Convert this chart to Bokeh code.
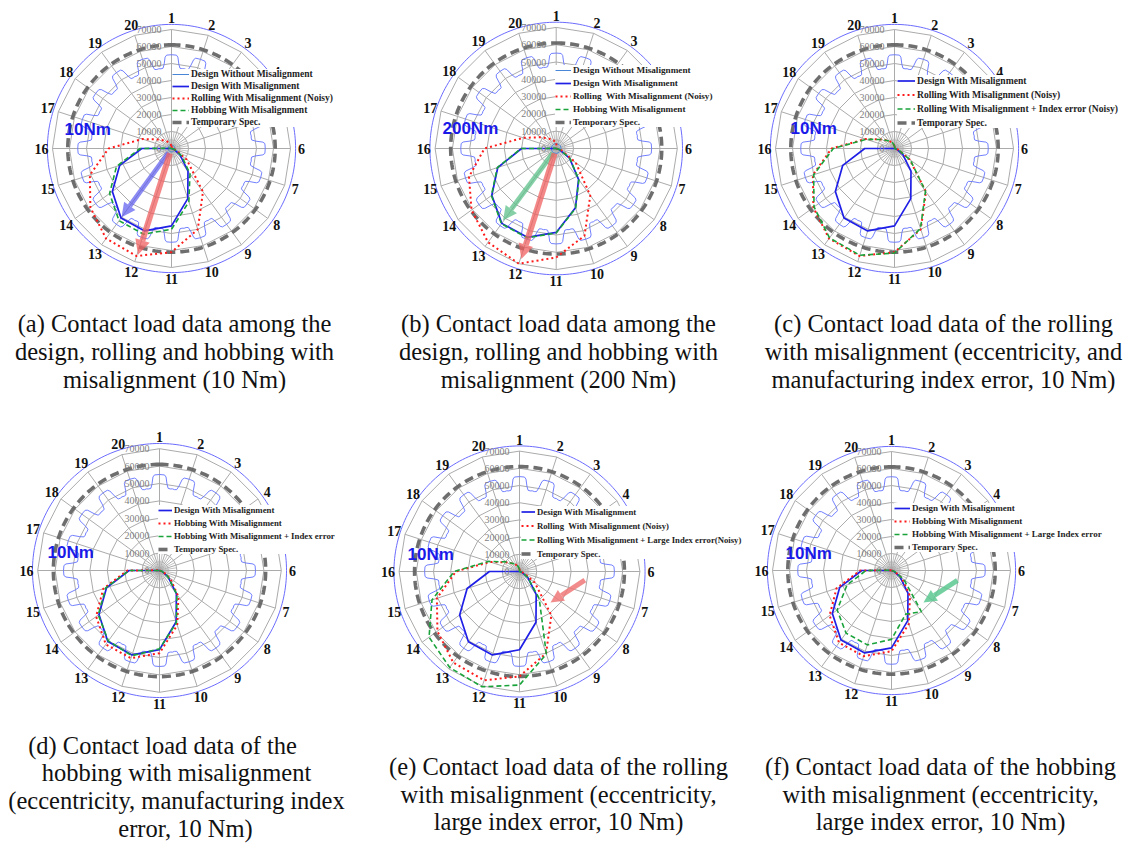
import math
from bokeh.plotting import figure
from bokeh.layouts import row, column
from bokeh.models import Range1d, Legend, LegendItem, Label, Arrow, NormalHead
from bokeh.core.properties import value
from bokeh.embed import file_html
from bokeh.resources import INLINE

# ---------------- data ----------------
tooth_labels = ["1", "2", "3", "4", "5", "6", "7", "8", "9", "10",
                "11", "12", "13", "14", "15", "16", "17", "18", "19", "20"]
ring_values = [0, 10000, 20000, 30000, 40000, 50000, 60000, 70000]
ring_labels = ["0", "10000", "20000", "30000", "40000", "50000", "60000", "70000"]
spec_limit = 61000

# contact load per tooth (teeth 1..20)
design_without_10 = [2000, 2000, 2000, 2000, 2000, 2000, 2000, 2000, 2000, 2000,
                     2000, 2000, 2000, 2000, 2000, 2000, 2000, 2000, 2000, 2000]
design_with_10 = [0, 0, 0, 0, 0, 0, 1500, 6000, 16500, 31000,
                  45500, 51000, 50500, 43000, 32000, 17500, 0, 0, 0, 0]
hobbing_10 = [0, 0, 0, 0, 0, 0, 2000, 7500, 18500, 33000,
              47500, 53000, 52500, 45000, 34000, 18500, 500, 0, 0, 0]
rolling_10 = [1500, 500, 0, 0, 0, 0, 2500, 11000, 31500, 50000,
              61000, 66500, 65500, 59000, 50500, 37000, 18000, 9000, 5500, 3500]
rolling_index_10 = [1500, 500, 0, 0, 0, 0, 2500, 11500, 31000, 49500,
                    61500, 66000, 65000, 58500, 50000, 36000, 17500, 9000, 5500, 3500]
hobbing_index_10 = [0, 0, 0, 0, 0, 0, 1500, 6000, 17000, 31500,
                    45000, 51500, 50000, 43500, 32500, 17500, 0, 0, 0, 0]
rolling_large_10 = [1500, 0, 0, 0, 0, 0, 1500, 6000, 19500, 50500,
                    66000, 70500, 69000, 65000, 53500, 38000, 19000, 9500, 5500, 3500]
hobbing_large_10 = [0, 0, 0, 0, 0, 0, 2000, 9000, 30000, 27000,
                    40500, 46000, 45500, 39500, 27500, 15000, 500, 0, 0, 0]
design_without_200 = [2800, 2800, 2800, 2800, 2800, 2800, 2800, 2800, 2800, 2800,
                      2800, 2800, 2800, 2800, 2800, 2800, 2800, 2800, 2800, 2800]
design_with_200 = [0, 0, 0, 0, 0, 0, 2000, 9500, 22000, 36000,
                   48500, 54000, 53500, 46000, 35500, 20000, 0, 0, 0, 0]
hobbing_200 = [0, 0, 0, 0, 0, 0, 2200, 9700, 22300, 36300,
               48800, 54300, 53800, 46300, 35800, 20300, 200, 0, 0, 0]
rolling_200 = [3000, 1000, 0, 0, 0, 0, 3000, 14000, 33500, 53000,
               63000, 70000, 67000, 60500, 53000, 41500, 20000, 11000, 7000, 5000]

STYLES = {
    "nomis": dict(line_color="#4a86d8", line_width=1.0),
    "design": dict(line_color="#1f1fe6", line_width=1.7),
    "roll": dict(line_color="#ff1a1a", line_width=2.0, line_dash="2 3"),
    "hob": dict(line_color="#19a33a", line_width=1.6, line_dash="5 3"),
}

STEP = 360.0 / len(tooth_labels)


def tooth_angle(i):
    return math.radians(STEP * i)


def polar_xy(vals):
    xs = [v * math.sin(tooth_angle(i)) for i, v in enumerate(vals)]
    ys = [v * math.cos(tooth_angle(i)) for i, v in enumerate(vals)]
    return xs + [xs[0]], ys + [ys[0]]


def circle_xy(r, n=240):
    a = [2 * math.pi * k / n for k in range(n + 1)]
    return [r * math.sin(t) for t in a], [r * math.cos(t) for t in a]


def gear_xy(rt=55000, rr=47500):
    xs, ys = [], []
    for k in range(len(tooth_labels)):
        c = STEP * k
        segs = [(c - 9, rr), (c - 7.5, rr * 0.995), (c - 6, rr), (c - 5, rr + 0.3 * (rt - rr)),
                (c - 4, rt - 0.15 * (rt - rr)), (c - 3, rt), (c, rt * 1.003), (c + 3, rt),
                (c + 4, rt - 0.15 * (rt - rr)), (c + 5, rr + 0.3 * (rt - rr)), (c + 6, rr),
                (c + 7.5, rr * 0.995)]
        for a, r in segs:
            xs.append(r * math.sin(math.radians(a)))
            ys.append(r * math.cos(math.radians(a)))
    return xs + [xs[0]], ys + [ys[0]]


def make_panel(cfg):
    W, H = cfg["size"]
    ox, oy = cfg["offset"]
    cx, cy = cfg["center"]
    s = cfg["scale"] / 10000.0
    p = figure(width=W, height=H,
               x_range=Range1d(-cx / s, (W - cx) / s),
               y_range=Range1d(-(H - cy) / s, cy / s),
               output_backend="svg", toolbar_location=None, min_border=0,
               x_axis_location=None, y_axis_location=None,
               background_fill_color="white", border_fill_color="white",
               outline_line_color=None)
    p.grid.visible = False

    grid_col = "#ababab"
    rmax = ring_values[-1]
    rx, ry = [], []
    for rv in ring_values[1:]:
        xs, ys = polar_xy([rv] * len(tooth_labels))
        rx.append(xs)
        ry.append(ys)
    p.multi_line(rx, ry, line_color=grid_col, line_width=1)
    cxs, cys = circle_xy(5000, 60)
    p.line(cxs, cys, line_color=grid_col, line_width=0.8)
    n = len(tooth_labels)
    p.segment(x0=[0] * n, y0=[0] * n,
              x1=[rmax * math.sin(tooth_angle(i)) for i in range(n)],
              y1=[rmax * math.cos(tooth_angle(i)) for i in range(n)],
              line_color=grid_col, line_width=1)
    p.segment(x0=[0] * n, y0=[0] * n,
              x1=[10000 * math.sin(tooth_angle(i + 0.5)) for i in range(n)],
              y1=[10000 * math.cos(tooth_angle(i + 0.5)) for i in range(n)],
              line_color=grid_col, line_width=0.7)
    gx, gy = gear_xy()
    p.line(gx, gy, line_color="#6272ff", line_width=0.9)
    ox_, oy_ = circle_xy(73000)
    p.line(ox_, oy_, line_color="#6b6bff", line_width=1)
    sx, sy = circle_xy(spec_limit)
    r_spec = p.line(sx, sy, line_color="#5e5e5e", line_width=3.6, line_dash="9 5", line_alpha=0.9)

    items = []
    for label, vals, style in cfg["series"]:
        xs, ys = polar_xy(vals)
        r = p.line(xs, ys, **STYLES[style])
        items.append(LegendItem(label=label, renderers=[r]))
    items.append(LegendItem(label="Temporary Spec.", renderers=[r_spec]))

    for col, alpha, lw, r0, a0, r1, a1, hs in cfg["arrows"]:
        t0, t1 = math.radians(a0), math.radians(a1)
        p.add_layout(Arrow(x_start=r0 * math.sin(t0), y_start=r0 * math.cos(t0),
                           x_end=r1 * math.sin(t1), y_end=r1 * math.cos(t1),
                           line_color=col, line_alpha=alpha, line_width=lw,
                           end=NormalHead(size=hs, fill_color=col, fill_alpha=alpha,
                                          line_color=None)))

    rl = 76500
    p.text(x=[rl * math.sin(tooth_angle(i)) for i in range(n)],
           y=[rl * math.cos(tooth_angle(i)) for i in range(n)],
           text=tooth_labels, text_font=value("Liberation Serif"),
           text_font_style="bold", text_font_size="14px", text_color="#111111",
           text_align="center", text_baseline="middle")
    p.text(x=[-10 / s] * len(ring_values), y=ring_values, text=ring_labels,
           text_font=value("Liberation Serif"), text_font_size="10px",
           text_color="#7f7f7f", text_align="right", text_baseline="middle")

    tx, ty = cfg["torque_pos"]
    p.add_layout(Label(x=tx - ox, y=H - (ty - oy), x_units="screen", y_units="screen",
                       text=cfg["torque"], text_font="Liberation Sans",
                       text_font_style="bold", text_font_size="17px",
                       text_color="#1a1ae8", text_align="left", text_baseline="middle"))

    lg = cfg["legend"]
    pad = 3
    n_items = len(items)
    lg_height = n_items * lg["h"] + (n_items - 1) * lg["sp"] + 2 * pad
    lg_left, lg_top = lg["left"] - ox, lg["top"] - oy
    legend = Legend(items=items, location=(lg_left, H - lg_top - lg_height), margin=0,
                    background_fill_color="white", background_fill_alpha=1.0,
                    border_line_color=None,
                    label_text_font="Liberation Serif", label_text_font_style="bold",
                    label_text_font_size=lg["font"], label_text_color="#1e1e1e",
                    label_height=lg["h"], glyph_height=lg["h"], glyph_width=lg["gw"],
                    label_standoff=2, spacing=lg["sp"], padding=pad)
    p.add_layout(legend)

    for text, px, py in cfg["captions"]:
        p.add_layout(Label(x=px - ox, y=H - (py - oy), x_units="screen", y_units="screen",
                           text=text, text_font="Liberation Serif", text_font_size="24.5px",
                           text_color="#111111", text_align="center", text_baseline="middle"))
    return p


panels = [
    dict(offset=(0, 0), size=(370, 412), center=(171, 148), scale=17.0,
         series=[("Design Without Misalignment", design_without_10, "nomis"),
                 ("Design With Misalignment", design_with_10, "design"),
                 ("Rolling With Misalignment (Noisy)", rolling_10, "roll"),
                 ("Hobbing With Misalignment", hobbing_10, "hob")],
         torque="10Nm", torque_pos=(64, 129),
         arrows=[("#5a5aee", 0.7, 5, 3000, 216, 50000, 216, 14),
                 ("#f06060", 0.75, 6, 3000, 197.5, 65500, 197.5, 15)],
         legend=dict(left=172, top=63, font="9.5px", h=10, sp=2, gw=17),
         captions=[("(a) Contact load data among the", 174, 323),
                   ("design, rolling and hobbing with", 174, 351),
                   ("misalignment (10 Nm)", 174, 379)]),
    dict(offset=(370, 0), size=(380, 412), center=(185.7, 148), scale=17.3,
         series=[("Design Without Misalignment", design_without_200, "nomis"),
                 ("Design With Misalignment", design_with_200, "design"),
                 ("Rolling  With Misalignment (Noisy)", rolling_200, "roll"),
                 ("Hobbing With Misalignment", hobbing_200, "hob")],
         torque="200Nm", torque_pos=(442, 128),
         arrows=[("#5cc08a", 0.75, 5, 3000, 216.5, 51700, 216.5, 14),
                 ("#f06060", 0.75, 6, 3000, 197.5, 67000, 197.5, 15)],
         legend=dict(left=555, top=59, font="9.2px", h=10, sp=3, gw=16),
         captions=[("(b) Contact load data among the", 558, 323),
                   ("design, rolling and hobbing with", 558, 351),
                   ("misalignment (200 Nm)", 558, 379)]),
    dict(offset=(750, 0), size=(383, 412), center=(144, 148), scale=17.0,
         series=[("Design With Misalignment", design_with_10, "design"),
                 ("Rolling With Misalignment (Noisy)", rolling_10, "roll"),
                 ("Rolling With Misalignment + Index error (Noisy)", rolling_index_10, "hob")],
         torque="10Nm", torque_pos=(790, 128),
         arrows=[],
         legend=dict(left=897, top=69, font="9.6px", h=11, sp=3, gw=18),
         captions=[("(c) Contact load data of the rolling", 943, 323),
                   ("with misalignment (eccentricity, and", 943, 351),
                   ("manufacturing index error, 10 Nm)", 943, 379)]),
    dict(offset=(0, 412), size=(370, 432), center=(159, 158), scale=17.4,
         series=[("Design With Misalignment", design_with_10, "design"),
                 ("Hobbing With Misalignment", hobbing_10, "roll"),
                 ("Hobbing With Misalignment + Index error", hobbing_index_10, "hob")],
         torque="10Nm", torque_pos=(47, 552),
         arrows=[],
         legend=dict(left=158, top=499, font="8.8px", h=10, sp=3, gw=14),
         captions=[("(d) Contact load data of the", 162, 745),
                   ("hobbing with misalignment", 176, 772),
                   ("(eccentricity, manufacturing index", 176, 800),
                   ("error, 10 Nm)", 185, 828)]),
    dict(offset=(370, 412), size=(380, 432), center=(149, 159), scale=17.2,
         series=[("Design With Misalignment", design_with_10, "design"),
                 ("Rolling  With Misalignment (Noisy)", rolling_10, "roll"),
                 ("Rolling With Misalignment + Large Index error(Noisy)", rolling_large_10, "hob")],
         torque="10Nm", torque_pos=(407, 554),
         arrows=[("#f07878", 0.85, 5, 38300, 97.5, 25500, 135, 13)],
         legend=dict(left=521, top=500, font="8.7px", h=11, sp=3, gw=14),
         captions=[("(e) Contact load data of the rolling", 558, 766),
                   ("with misalignment (eccentricity,", 558, 794),
                   ("large index error, 10 Nm)", 558, 821)]),
    dict(offset=(750, 412), size=(383, 432), center=(141, 158), scale=17.0,
         series=[("Design With Misalignment", design_with_10, "design"),
                 ("Hobbing With Misalignment", hobbing_10, "roll"),
                 ("Hobbing With Misalignment + Large Index error", hobbing_large_10, "hob")],
         torque="10Nm", torque_pos=(785, 553),
         arrows=[("#5cc890", 0.85, 5, 39200, 98.6, 26600, 135, 13)],
         legend=dict(left=894, top=497, font="9px", h=10, sp=3, gw=16),
         captions=[("(f) Contact load data of the hobbing", 940, 766),
                   ("with misalignment (eccentricity,", 940, 794),
                   ("large index error, 10 Nm)", 940, 821)]),
]

figs = [make_panel(c) for c in panels]
layout = column(row(figs[0], figs[1], figs[2]), row(figs[3], figs[4], figs[5]))

with open("out.html", "w") as f:
    f.write(file_html(layout, INLINE))
